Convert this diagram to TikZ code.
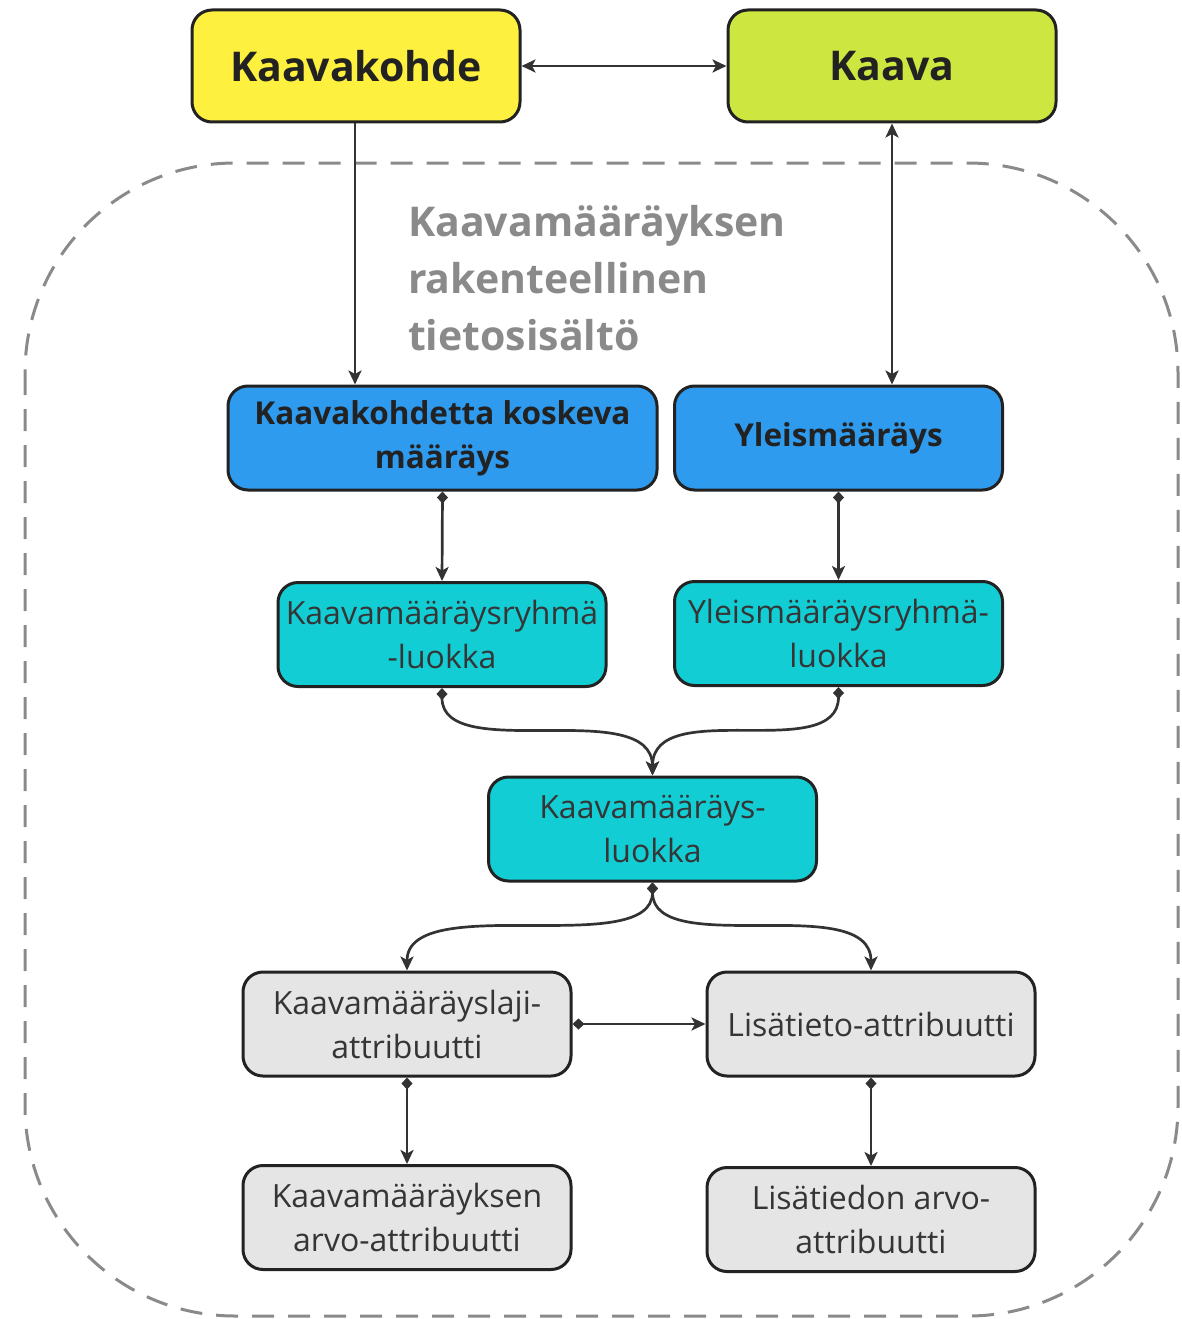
\documentclass[tikz,border=0pt]{standalone}
\usepackage{fontspec}
\setmainfont{Open Sans}
\usetikzlibrary{arrows.meta}
\definecolor{cyel}{HTML}{FEF03E}
\definecolor{cgrn}{HTML}{CEE740}
\definecolor{cblu}{HTML}{2E9BEF}
\definecolor{ccya}{HTML}{13CDD4}
\definecolor{cgry}{HTML}{E5E5E5}
\definecolor{cdash}{HTML}{8A8A8A}
\definecolor{cline}{HTML}{333333}
\definecolor{ctxt}{HTML}{222222}
\definecolor{ctxt2}{HTML}{353535}
\begin{document}
\begin{tikzpicture}[x=1pt,y=-1pt,
  box/.style={draw=ctxt, line width=3pt, rounded corners=20pt, minimum width=328pt, minimum height=104pt, align=center, inner sep=0pt, text=ctxt},
  topbox/.style={box, minimum height=112pt, font=\fontsize{41}{48}\selectfont\bfseries},
  bluebox/.style={box, fill=cblu, font=\fontsize{31.5}{44}\selectfont\bfseries},
  cyabox/.style={box, fill=ccya, text=ctxt2, font=\fontsize{32}{44}\selectfont},
  grybox/.style={box, fill=cgry, text=ctxt2, font=\fontsize{32}{44}\selectfont},
  conn/.style={draw=cline, line width=2.7pt},
  tipa/.tip={Stealth[length=14pt,width=13pt,inset=3.5pt]},
  tipd/.tip={Diamond[length=12pt,width=11pt]}
]
\useasboundingbox (0,0) rectangle (1181,1319);
% dashed frame
\draw[cdash, line width=3pt, dash pattern=on 22pt off 14pt, rounded corners=210pt] (25,163) rectangle (1178,1316);
% title
\node[anchor=north west, align=left, inner sep=0pt, text=cdash, font=\fontsize{41}{57}\selectfont\bfseries] (title) at (408,205) {Kaavamääräyksen\\rakenteellinen\\tietosisältö};
% nodes
\node[topbox, fill=cyel] (kk) at (356,66) {Kaavakohde};
\node[topbox, fill=cgrn] (ka) at (892,66) {Kaava};
\node[bluebox, minimum width=429pt] (kkm) at (442.5,438) {\raisebox{-3pt}{Kaavakohdetta koskeva}\\\raisebox{-3pt}{määräys}};
\node[bluebox] (ym) at (838.5,438) {\raisebox{-3pt}{Yleismääräys}};
\node[cyabox] (kmr) at (442,634.5) {Kaavamääräysryhmä\\-luokka};
\node[cyabox] (ymr) at (838.5,633.5) {Yleismääräysryhmä-\\luokka};
\node[cyabox] (kml) at (652.5,829) {Kaavamääräys-\\luokka};
\node[grybox] (laji) at (407,1024) {Kaavamääräyslaji-\\attribuutti};
\node[grybox] (lisa) at (871,1024) {Lisätieto-attribuutti};
\node[grybox] (arvo) at (407,1217.5) {Kaavamääräyksen\\arvo-attribuutti};
\node[grybox] (larvo) at (871,1219.5) {Lisätiedon arvo-\\attribuutti};
% connectors
\draw[conn, tipa-tipa] (kk.east) -- (ka.west);
\draw[conn, -tipa] (kk.south -| 355,0) -- (kkm.north -| 355,0);
\draw[conn, tipa-tipa] (ka.south) -- (ka.south |- ym.north);
\draw[conn, tipd-tipa] (kkm.south) -- (kmr.north);
\draw[conn, tipd-tipa] (ym.south) -- (ymr.north);
\draw[conn, tipd-tipa] (kmr.south) .. controls (442,765) and (652,695) .. (kml.north);
\draw[conn, tipd-tipa] (ymr.south) .. controls (838.5,765) and (652.5,695) .. (kml.north);
\draw[conn, tipd-tipa] (kml.south) .. controls (652.5,960) and (407,890) .. (laji.north);
\draw[conn, tipd-tipa] (kml.south) .. controls (652.5,960) and (871,890) .. (lisa.north);
\draw[conn, tipd-tipa] (laji.east) -- (lisa.west);
\draw[conn, tipd-tipa] (laji.south) -- (arvo.north);
\draw[conn, tipd-tipa] (lisa.south) -- (larvo.north);
\end{tikzpicture}
\end{document}
